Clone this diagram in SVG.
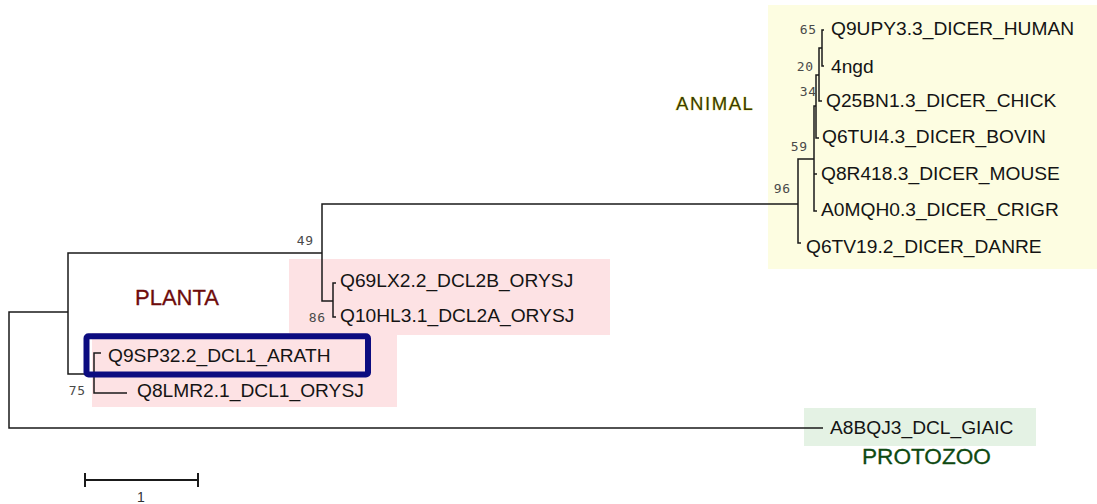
<svg xmlns="http://www.w3.org/2000/svg" width="1097" height="504" viewBox="0 0 1097 504">
  <style>
    .leaf { font-family: "Liberation Sans", Arial, sans-serif; font-size: 19.2px; fill: #141414; }
    .boot { font-family: "DejaVu Sans Mono", monospace; font-size: 13px; fill: #4a4a4a; letter-spacing: 0.8px; text-anchor: end; }
    .edge { fill: none; stroke: #1a1a1a; stroke-width: 1.5; }
    .clade { font-family: "Liberation Sans", Arial, sans-serif; }
  </style>
  <rect width="1097" height="504" fill="#ffffff"/>

  <!-- clade backgrounds -->
  <g id="clade-boxes">
    <rect x="768" y="5" width="329" height="264" fill="#fdfde1"/>
    <rect x="289" y="259" width="321" height="76" fill="#fde2e4"/>
    <rect x="92" y="333" width="305" height="74" fill="#fde2e4"/>
    <rect x="804" y="408" width="232" height="38" fill="#e4f2e4"/>
  </g>

  <!-- tree branches -->
  <g id="connectors" class="edge">
    <path d="M68,312 H9 V428 H823"/>
    <path d="M322,253 H68 V374 H94"/>
    <path d="M798,204 H322 V301 H333"/>
    <path d="M336,283 H333 V317 H336"/>
    <path d="M101,353 H94 V393 H127"/>
    <path d="M814,159 H798 V243 H801"/>
    <path d="M816,106 H814 V211 H817 M814,174 H817"/>
    <path d="M819,75 H816 V138 H819"/>
    <path d="M822,48 H819 V101 H822"/>
    <path d="M824,30 H822 V66 H824"/>
  </g>

  <!-- leaves -->
  <g id="leaf-human"><text class="leaf" x="831" y="35">Q9UPY3.3_DICER_HUMAN</text></g>
  <g id="leaf-4ngd"><text class="leaf" x="831" y="73">4ngd</text></g>
  <g id="leaf-chick"><text class="leaf" x="826" y="107">Q25BN1.3_DICER_CHICK</text></g>
  <g id="leaf-bovin"><text class="leaf" x="822" y="143">Q6TUI4.3_DICER_BOVIN</text></g>
  <g id="leaf-mouse"><text class="leaf" x="821" y="180">Q8R418.3_DICER_MOUSE</text></g>
  <g id="leaf-crigr"><text class="leaf" x="821" y="216">A0MQH0.3_DICER_CRIGR</text></g>
  <g id="leaf-danre"><text class="leaf" x="806" y="253">Q6TV19.2_DICER_DANRE</text></g>
  <g id="leaf-dcl2b"><text class="leaf" x="340" y="287">Q69LX2.2_DCL2B_ORYSJ</text></g>
  <g id="leaf-dcl2a"><text class="leaf" x="340" y="322">Q10HL3.1_DCL2A_ORYSJ</text></g>
  <g id="leaf-arath"><text class="leaf" x="108" y="362">Q9SP32.2_DCL1_ARATH</text></g>
  <g id="leaf-dcl1-orysj"><text class="leaf" x="137" y="397">Q8LMR2.1_DCL1_ORYSJ</text></g>
  <g id="leaf-giaic"><text class="leaf" x="830" y="434">A8BQJ3_DCL_GIAIC</text></g>

  <!-- highlight around the Arabidopsis sequence -->
  <g id="highlight">
    <rect x="86.5" y="336.3" width="281.5" height="38.2" rx="2" fill="none" stroke="#0c0c80" stroke-width="6"/>
  </g>

  <!-- bootstrap support values -->
  <g id="support">
    <text class="boot" x="817" y="34">65</text>
    <text class="boot" x="814" y="71">20</text>
    <text class="boot" x="817" y="96">34</text>
    <text class="boot" x="808" y="151">59</text>
    <text class="boot" x="791" y="193">96</text>
    <text class="boot" x="314" y="245">49</text>
    <text class="boot" x="326" y="322">86</text>
    <text class="boot" x="86" y="395">75</text>
  </g>

  <!-- clade names -->
  <g id="label-animal">
    <text class="clade" x="676" y="110" font-family="DejaVu Sans, sans-serif" font-size="18.5" letter-spacing="1.6" fill="#3a3a04" stroke="#e2e24e" stroke-width="0.7" paint-order="stroke">ANIMAL</text>
  </g>
  <g id="label-planta">
    <text class="clade" x="135" y="305" font-size="22" fill="#6e0c0c" stroke="#6e0c0c" stroke-width="0.3">PLANTA</text>
  </g>
  <g id="label-protozoo">
    <text class="clade" x="862" y="464" font-size="22.6" fill="#0f4a12" stroke="#0f4a12" stroke-width="0.3">PROTOZOO</text>
  </g>

  <!-- scale bar -->
  <g id="scale-bar">
    <path d="M85,480 H198 M85,473 V487 M198,473 V487" fill="none" stroke="#1a1a1a" stroke-width="2"/>
    <text x="141" y="502" font-family="Liberation Sans, Arial, sans-serif" font-size="14" fill="#333" text-anchor="middle">1</text>
  </g>
</svg>
